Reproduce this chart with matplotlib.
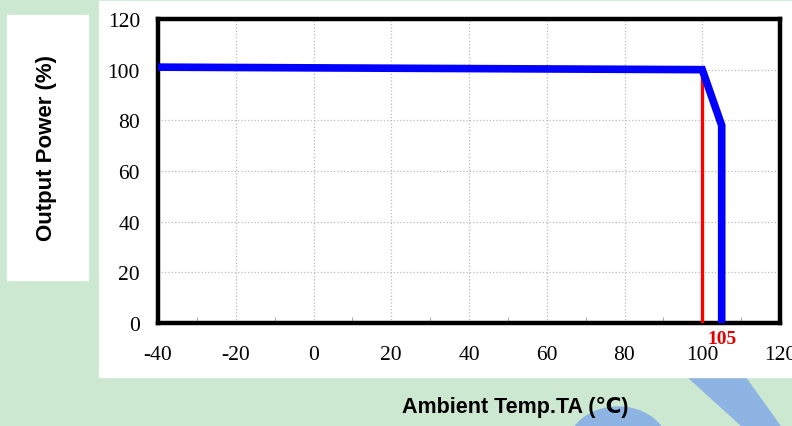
import matplotlib.pyplot as plt
import matplotlib.patches as mpatches
from matplotlib.transforms import blended_transform_factory

plt.rcParams["axes.unicode_minus"] = False

# Colores
C_FONDO = "#CDE8D1"
C_DECO = "#8DB4E2"
C_AZUL = "#0000FF"
C_ROJO = "#FF0000"

# ── Datos ──────────────────────────────────────────────────────────────────
temp = [-40, 100, 105, 105]
power = [101, 100, 78, 0]
limite_x = [100, 100]
limite_y = [100, 0]
x_ticks = [-40, -20, 0, 20, 40, 60, 80, 100, 120]
y_ticks = [0, 20, 40, 60, 80, 100, 120]
marca_temp = 105

W, H = 792, 427

def fx(px):
    return px / W

def fy(py):
    return 1 - py / H

# ── Figura ─────────────────────────────────────────────────────────────────
fig = plt.figure(figsize=(W / 100, H / 100), dpi=100)
fig.patch.set_facecolor(C_FONDO)

# decoración azul abajo a la derecha
banda = mpatches.Polygon(
    [(fx(688), fy(378)), (fx(745), fy(378)), (fx(780), fy(427)), (fx(742), fy(427))],
    closed=True, transform=fig.transFigure, color=C_DECO, zorder=0)
fig.patches.append(banda)
blob = mpatches.Ellipse((fx(618), fy(448)), fx(100), 80 / H,
                        transform=fig.transFigure, color=C_DECO, zorder=0)
fig.patches.append(blob)

# panel blanco del gráfico y caja del título del eje Y
fig.patches.append(mpatches.Rectangle((fx(99), fy(378)), fx(693), 376 / H,
                                      transform=fig.transFigure, color="white", zorder=1))
fig.patches.append(mpatches.Rectangle((fx(7), fy(281)), fx(81), 265 / H,
                                      transform=fig.transFigure, color="white", zorder=1))

ax = fig.add_axes([fx(158), fy(324), fx(780 - 158), (324 - 20) / H])
ax.set_zorder(2)
ax.set_facecolor("white")

ax.plot(limite_x, limite_y, color=C_ROJO, lw=2.4, zorder=3, solid_capstyle="butt")
ax.plot(temp, power, color=C_AZUL, lw=5.5, zorder=4, solid_joinstyle="miter",
        solid_capstyle="butt")

ax.set_xlim(-40, 120)
ax.set_ylim(0, 120)
ax.set_xticks(x_ticks)
ax.set_yticks(y_ticks)
ax.set_xticks(range(-30, 120, 20), minor=True)

ax.grid(which="major", color="#BBBBBB", linestyle=":", lw=0.9, zorder=0)
for s in ax.spines.values():
    s.set_linewidth(3.2)
    s.set_color("black")

serif = "Liberation Serif"
ax.tick_params(axis="both", which="major", length=0, labelsize=15.5)
ax.tick_params(axis="y", pad=13)
ax.tick_params(axis="x", pad=16)
ax.tick_params(axis="x", which="minor", direction="in", length=4, width=0.6,
               color="#999999")
for lab in ax.get_xticklabels() + ax.get_yticklabels():
    lab.set_family(serif)

trans = blended_transform_factory(ax.transData, ax.transAxes)
ax.text(marca_temp, -0.05, str(marca_temp), transform=trans, ha="center", va="center",
        fontsize=14, fontweight="bold", color="#E00000", family=serif)

fig.text(fx(47), fy(148), "Output Power (%)", rotation=90, ha="center", va="center",
         fontsize=16, fontweight="bold", family=["Liberation Sans", "DejaVu Sans"],
         zorder=2)
fig.text(fx(515), fy(407), "Ambient Temp.TA (\u2103)", ha="center", va="center",
         fontsize=15.5, fontweight="bold", family=["Liberation Sans", "DejaVu Sans"],
         zorder=2)

plt.savefig("out.png", dpi=100, facecolor=C_FONDO)
